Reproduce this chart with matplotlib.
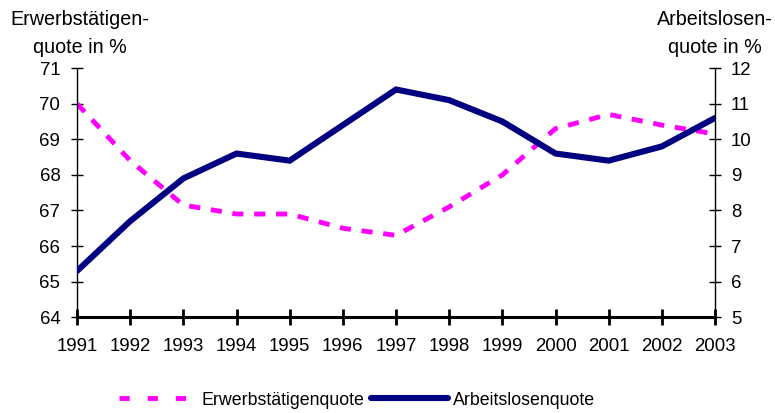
import matplotlib
matplotlib.use("Agg")
import matplotlib.pyplot as plt
from matplotlib.lines import Line2D

plt.rcParams['font.family'] = ['Liberation Sans', 'DejaVu Sans']

years = [1991, 1992, 1993, 1994, 1995, 1996, 1997, 1998, 1999, 2000, 2001, 2002, 2003]
erwerb = [70.0, 68.4, 67.15, 66.9, 66.9, 66.5, 66.3, 67.1, 68.0, 69.3, 69.7, 69.4, 69.15]
arbeitslos = [6.3, 7.7, 8.9, 9.6, 9.4, 10.4, 11.4, 11.1, 10.5, 9.6, 9.4, 9.8, 10.6]
left_ticks = [64, 65, 66, 67, 68, 69, 70, 71]
right_ticks = [5, 6, 7, 8, 9, 10, 11, 12]

FS_TICK = 13.4
FS_TITLE = 14.2
FS_LEG = 12.8
MAGENTA = '#FF00FF'
NAVY = '#000080'

fig = plt.figure(figsize=(7.75, 4.13), dpi=100)
ax = fig.add_axes([0.0994, 0.232, 0.8232, 0.603])
ax2 = ax.twinx()

ax.plot(years, erwerb, color=MAGENTA, lw=3.5, dashes=(2.3, 2.2),
        dash_capstyle='butt')
ax2.plot(years, arbeitslos, color=NAVY, lw=4.4, solid_joinstyle='miter',
         solid_capstyle='round')

ax.set_xlim(1991, 2003)
ax.set_ylim(64, 71)
ax2.set_ylim(5, 12)
ax.set_xticks(years)
ax.set_yticks(left_ticks)
ax2.set_yticks(right_ticks)

for a in (ax, ax2):
    a.spines['top'].set_visible(False)
    a.set_facecolor('none')
ax.spines['right'].set_visible(False)
ax2.spines['left'].set_visible(False)
ax2.spines['bottom'].set_visible(False)
ax.spines['left'].set_linewidth(1.0)
ax2.spines['right'].set_linewidth(1.0)
ax.spines['bottom'].set_linewidth(2.2)
ax.spines['bottom'].set_zorder(5)

ax.tick_params(axis='y', direction='inout', length=9, width=1.0, labelsize=FS_TICK, pad=7.5)
ax2.tick_params(axis='y', direction='inout', length=9, width=1.0, labelsize=FS_TICK, pad=7)
ax.tick_params(axis='x', direction='inout', length=12, width=2.0, labelsize=FS_TICK, pad=9)
ax2.set_zorder(ax.get_zorder() + 1)

fig.text(0.103, 0.976, 'Erwerbstätigen-\nquote in %', ha='center', va='top',
         fontsize=FS_TITLE, linespacing=1.6)
fig.text(0.922, 0.976, 'Arbeitslosen-\nquote in %', ha='center', va='top',
         fontsize=FS_TITLE, linespacing=1.6)

h1 = Line2D([], [], color=MAGENTA, lw=3.5, dashes=(2.1, 3.7), dash_capstyle='butt')
h2 = Line2D([], [], color=NAVY, lw=4.4, solid_capstyle='round')
fig.legend(handles=[h1, h2], labels=['Erwerbstätigenquote', 'Arbeitslosenquote'],
           loc='center', bbox_to_anchor=(0.461, 0.031), ncol=2,
           frameon=False, fontsize=FS_LEG, handlelength=4.3, handletextpad=0.3,
           columnspacing=0.4)

fig.savefig('out.png', dpi=100)
